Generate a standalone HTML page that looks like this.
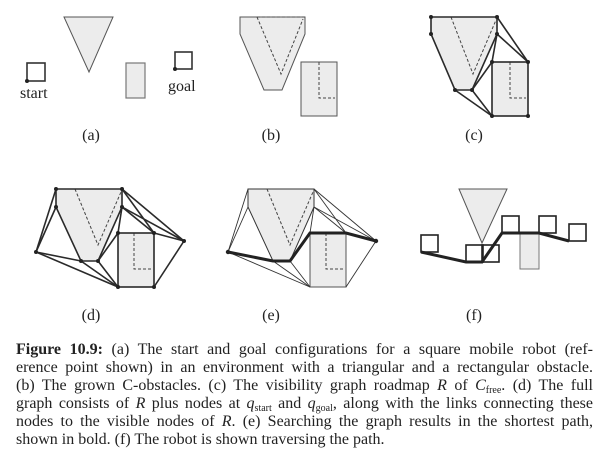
<!DOCTYPE html>
<html><head><meta charset="utf-8"><style>
body{margin:0;background:#fff;width:608px;height:465px;overflow:hidden;position:relative;font-family:"Liberation Serif",serif;color:#222}
svg{position:absolute;left:0;top:0}
.cap{position:absolute;left:16px;width:577px;font-size:16px;line-height:18px;white-space:nowrap;text-align:justify;text-align-last:justify}
.cap.last{text-align-last:left}
sub{font-size:10px;vertical-align:-3px;line-height:0}
</style></head><body>
<svg width="608" height="465" viewBox="0 0 608 465" font-family="Liberation Serif, serif" fill="none">
<!-- (a) -->
<polygon points="64,17 113,17 89,72" fill="#ececec" stroke="#555" stroke-width="1"/>
<rect x="27" y="63" width="18" height="18" stroke="#333" stroke-width="1.6"/>
<circle cx="27" cy="81" r="2" fill="#222"/>
<rect x="126" y="63" width="19" height="35" fill="#ececec" stroke="#777" stroke-width="1.2"/>
<rect x="175" y="52" width="17" height="17" stroke="#333" stroke-width="1.6"/>
<circle cx="175" cy="69" r="2" fill="#222"/>
<text x="20" y="98" font-size="16" fill="#222">start</text>
<text x="168" y="91" font-size="16" fill="#222">goal</text>
<text x="91" y="140" font-size="16" fill="#222" text-anchor="middle">(a)</text>
<!-- (b) -->
<polygon points="240,17 305,17 305,34 282,90 264,90 240,34" fill="#ececec" stroke="#555" stroke-width="1"/>
<polyline points="257,17 281,74 303,19" stroke="#444" stroke-dasharray="3,2"/>
<line x1="257" y1="17" x2="305" y2="17" stroke="#444" stroke-dasharray="3,2"/>
<rect x="301" y="62" width="36" height="54" fill="#ececec" stroke="#555" stroke-width="1"/>
<polyline points="319,62 319,98 335,98" stroke="#444" stroke-dasharray="3,2"/>
<text x="271" y="140" font-size="16" fill="#222" text-anchor="middle">(b)</text>
<!-- (c) -->
<polygon points="431,17 497,17 497,34 472,90 455,90 431,34" fill="#ececec"/>
<polyline points="451,17 473,74 496,20" stroke="#444" stroke-dasharray="3,2"/>
<rect x="492" y="62" width="36" height="54" fill="#ececec"/>
<polyline points="510,62 510,98 526,98" stroke="#444" stroke-dasharray="3,2"/>
<g stroke="#2a2a2a" stroke-width="1.6">
<polygon points="431,17 497,17 497,34 472,90 455,90 431,34"/>
<rect x="492" y="62" width="36" height="54"/>
<line x1="497" y1="17" x2="528" y2="62"/><line x1="497" y1="34" x2="528" y2="62"/>
<line x1="497" y1="34" x2="492" y2="62"/><line x1="472" y1="90" x2="492" y2="62"/>
<line x1="472" y1="90" x2="492" y2="116"/><line x1="455" y1="90" x2="492" y2="116"/>
</g>
<g fill="#222"><circle cx="431" cy="17" r="2"/><circle cx="497" cy="17" r="2"/><circle cx="431" cy="34" r="2"/><circle cx="497" cy="34" r="2"/><circle cx="455" cy="90" r="2"/><circle cx="472" cy="90" r="2"/><circle cx="492" cy="62" r="2"/><circle cx="528" cy="62" r="2"/><circle cx="492" cy="116" r="2"/><circle cx="528" cy="116" r="2"/></g>
<text x="474" y="140" font-size="16" fill="#222" text-anchor="middle">(c)</text>
<!-- (d) -->
<polygon points="56,189 122,189 122,207 98,261 81,261 56,207" fill="#ececec"/>
<polyline points="75,189 98,245 121,192" stroke="#444" stroke-dasharray="3,2"/>
<rect x="118" y="233" width="36" height="54" fill="#ececec"/>
<polyline points="134,233 134,269 152,269" stroke="#444" stroke-dasharray="3,2"/>
<g stroke="#2a2a2a" stroke-width="1.6">
<polygon points="56,189 122,189 122,207 98,261 81,261 56,207"/>
<rect x="118" y="233" width="36" height="54"/>
<line x1="122" y1="189" x2="154" y2="233"/><line x1="122" y1="207" x2="154" y2="233"/>
<line x1="122" y1="207" x2="118" y2="233"/><line x1="98" y1="261" x2="118" y2="233"/>
<line x1="98" y1="261" x2="118" y2="287"/><line x1="81" y1="261" x2="118" y2="287"/>
<line x1="36" y1="252" x2="56" y2="189"/><line x1="36" y1="252" x2="56" y2="207"/>
<line x1="36" y1="252" x2="81" y2="261"/><line x1="36" y1="252" x2="118" y2="287"/>
<line x1="184" y1="241" x2="122" y2="189"/><line x1="184" y1="241" x2="122" y2="207"/>
<line x1="184" y1="241" x2="154" y2="233"/><line x1="184" y1="241" x2="154" y2="287"/>
</g>
<g fill="#222"><circle cx="56" cy="189" r="2"/><circle cx="122" cy="189" r="2"/><circle cx="56" cy="207" r="2"/><circle cx="122" cy="207" r="2"/><circle cx="81" cy="261" r="2"/><circle cx="98" cy="261" r="2"/><circle cx="118" cy="233" r="2"/><circle cx="154" cy="233" r="2"/><circle cx="118" cy="287" r="2"/><circle cx="154" cy="287" r="2"/><circle cx="36" cy="252" r="2"/><circle cx="184" cy="241" r="2"/></g>
<text x="91" y="320" font-size="16" fill="#222" text-anchor="middle">(d)</text>
<!-- (e) -->
<g transform="translate(192,0)">
<polygon points="56,189 122,189 122,207 98,261 81,261 56,207" fill="#ececec" stroke="#333" stroke-width="1"/>
<polyline points="75,189 98,245 121,192" stroke="#444" stroke-dasharray="3,2"/>
<rect x="118" y="233" width="36" height="54" fill="#ececec" stroke="#555" stroke-width="1"/>
<polyline points="134,233 134,269 152,269" stroke="#444" stroke-dasharray="3,2"/>
<g stroke="#333" stroke-width="0.9">
<line x1="122" y1="189" x2="154" y2="233"/><line x1="122" y1="207" x2="154" y2="233"/>
<line x1="122" y1="207" x2="118" y2="233"/>
<line x1="98" y1="261" x2="118" y2="287"/><line x1="81" y1="261" x2="118" y2="287"/>
<line x1="36" y1="252" x2="56" y2="189"/><line x1="36" y1="252" x2="56" y2="207"/>
<line x1="36" y1="252" x2="118" y2="287"/>
<line x1="184" y1="241" x2="122" y2="189"/><line x1="184" y1="241" x2="122" y2="207"/>
<line x1="184" y1="241" x2="154" y2="287"/>
</g>
<polyline points="36,252 81,261 98,261 118,233 154,233 184,241" stroke="#222" stroke-width="3"/>
<circle cx="36" cy="252" r="2.2" fill="#222"/><circle cx="184" cy="241" r="2.2" fill="#222"/>
</g>
<text x="271" y="320" font-size="16" fill="#222" text-anchor="middle">(e)</text>
<!-- (f) -->
<polygon points="459,189 507,189 482,243" fill="#ececec" stroke="#555" stroke-width="1"/>
<rect x="520" y="233" width="19" height="36" fill="#ececec" stroke="#777" stroke-width="1"/>
<polyline points="421,252 466,262 482,262 502,233 539,233 569,241" stroke="#222" stroke-width="3"/>
<g stroke="#222" stroke-width="1.6">
<rect x="421" y="235" width="17" height="17"/>
<rect x="466" y="245" width="17" height="17"/>
<rect x="482" y="245" width="17" height="17"/>
<rect x="502" y="216" width="17" height="17"/>
<rect x="539" y="216" width="17" height="17"/>
<rect x="569" y="224" width="17" height="17"/>
</g>
<text x="474" y="320" font-size="16" fill="#222" text-anchor="middle">(f)</text>
</svg>
<div class="cap" style="top:341px"><b>Figure 10.9:</b> (a) The start and goal configurations for a square mobile robot (ref-</div>
<div class="cap" style="top:359px">erence point shown) in an environment with a triangular and a rectangular obstacle.</div>
<div class="cap" style="top:377px">(b) The grown C-obstacles. (c) The visibility graph roadmap <i>R</i> of <i>C</i><sub>free</sub>. (d) The full</div>
<div class="cap" style="top:395px">graph consists of <i>R</i> plus nodes at <i>q</i><sub>start</sub> and <i>q</i><sub>goal</sub>, along with the links connecting these</div>
<div class="cap" style="top:413px">nodes to the visible nodes of <i>R</i>. (e) Searching the graph results in the shortest path,</div>
<div class="cap last" style="top:431px">shown in bold. (f) The robot is shown traversing the path.</div>
</body></html>
